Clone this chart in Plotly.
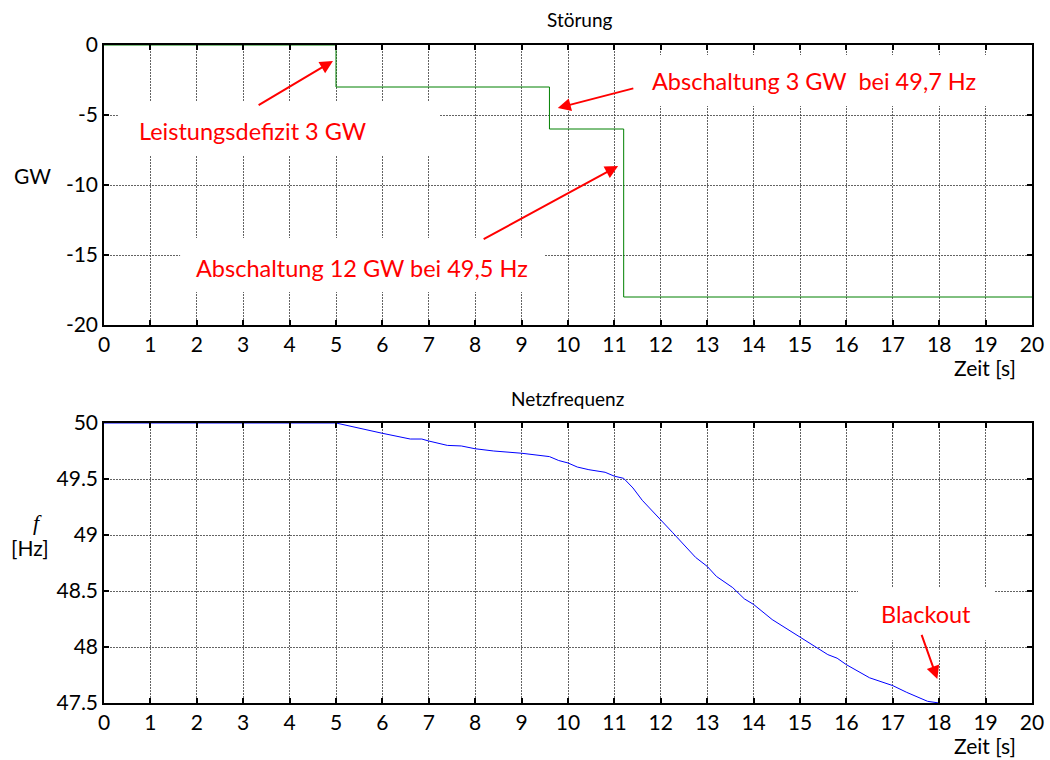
import plotly.graph_objects as go

# Störung: stepwise power deficit (GW) over time (s)
stoer_t = [0, 5, 5, 9.6, 9.6, 11.2, 11.2, 20]
stoer_gw = [0, 0, -3, -3, -6, -6, -18, -18]

# Netzfrequenz (Hz) over time (s)
freq_t = [0, 5, 6, 6.6, 6.85, 7, 7.4, 7.7, 8, 8.4, 9, 9.25, 9.6, 9.8, 10, 10.2,
          10.45, 10.8, 11.0, 11.2, 11.4, 11.6, 12.0, 12.25, 12.75, 13.0, 13.2,
          13.55, 13.8, 14.0, 14.4, 14.75, 15.0, 15.35, 15.6, 15.8, 16.0, 16.5,
          17.0, 17.3, 17.75, 18.0]
freq_hz = [50, 50, 49.908, 49.857, 49.857, 49.839, 49.80, 49.795, 49.77, 49.75,
           49.73, 49.715, 49.70, 49.665, 49.643, 49.607, 49.583, 49.56, 49.525,
           49.506, 49.42, 49.31, 49.137, 49.024, 48.8, 48.72, 48.63, 48.53,
           48.43, 48.38, 48.245, 48.155, 48.09, 48.0, 47.932, 47.9, 47.842,
           47.725, 47.655, 47.595, 47.515, 47.5]

x_ticks = list(range(0, 21))
gw_ticks = [0, -5, -10, -15, -20]
gw_ticklabels = ["0", "-5", "-10", "-15", "-20"]
hz_ticks = [50, 49.5, 49, 48.5, 48, 47.5]
hz_ticklabels = ["50", "49.5", "49", "48.5", "48", "47.5"]

FONT = "Lato"
RED = "#FF0000"
W, H = 1050, 760

fig = go.Figure()
fig.add_trace(go.Scatter(x=stoer_t, y=stoer_gw, mode="lines",
                         line=dict(color="#008000", width=1),
                         xaxis="x", yaxis="y", showlegend=False))
fig.add_trace(go.Scatter(x=freq_t, y=freq_hz, mode="lines",
                         line=dict(color="#0000FF", width=1),
                         xaxis="x2", yaxis="y2", showlegend=False))

def px_x(p):
    return p / W

def px_y(p):
    return 1 - p / H

axis_common = dict(
    showline=True, linecolor="black", linewidth=1.5, mirror="ticks",
    ticks="inside", ticklen=5, tickwidth=1.5, tickcolor="black",
    showgrid=True, gridcolor="rgba(60,60,60,0.8)", gridwidth=1, griddash="2px,1px",
    zeroline=False, tickfont=dict(family=FONT, size=21, color="black"),
    fixedrange=True, automargin=False,
)

xdom = [px_x(104), px_x(1032)]
fig.update_layout(
    width=W, height=H,
    margin=dict(l=0, r=0, t=0, b=0, autoexpand=False),
    paper_bgcolor="white", plot_bgcolor="white",
    font=dict(family=FONT, color="black"),
    xaxis=dict(domain=xdom, range=[0, 20], tickvals=x_ticks, anchor="y", **axis_common),
    yaxis=dict(domain=[px_y(325), px_y(45)], range=[-20, 0], tickvals=gw_ticks,
               ticktext=gw_ticklabels, anchor="x", **axis_common),
    xaxis2=dict(domain=xdom, range=[0, 20], tickvals=x_ticks, anchor="y2", **axis_common),
    yaxis2=dict(domain=[px_y(703), px_y(423)], range=[47.5, 50], tickvals=hz_ticks,
                ticktext=hz_ticklabels, anchor="x2", **axis_common),
)

# white label backgrounds, drawn above the grid but beneath the curves
label_boxes = [
    ("x", "y", 0.30, 7.22, -4.07, -7.86),
    ("x", "y", 11.55, 19.42, -0.71, -4.36),
    ("x", "y", 1.64, 9.5, -13.79, -17.64),
    ("x2", "y2", 16.25, 19.2, 48.527, 48.06),
]
for xr, yr, x0, x1, y0, y1 in label_boxes:
    fig.add_shape(type="rect", xref=xr, yref=yr, x0=x0, x1=x1, y0=y0, y1=y1,
                  fillcolor="white", line=dict(width=0), layer="between")

# red labels
labels = [
    ("x", "y", 3.19, -6.14, "Leistungsdefizit 3 GW"),
    ("x", "y", 15.30, -2.57, "Abschaltung 3 GW  bei 49,7 Hz"),
    ("x", "y", 5.56, -15.93, "Abschaltung 12 GW bei 49,5 Hz"),
    ("x2", "y2", 17.72, 48.295, "Blackout"),
]
for xr, yr, x, y, txt in labels:
    fig.add_annotation(xref=xr, yref=yr, x=x, y=y, text=txt, showarrow=False,
                       font=dict(family=FONT, size=23.5, color=RED))

# red arrows: (tip x, tip y, tail x, tail y)
arrows = [
    ("x", "y", 4.935, -1.14, 3.30, -4.36),
    ("x", "y", 9.78, -4.5, 11.44, -3.07),
    ("x", "y", 11.08, -8.64, 8.15, -13.93),
    ("x2", "y2", 17.96, 47.714, 17.61, 48.122),
]
for xr, yr, x, y, ax, ay in arrows:
    fig.add_annotation(xref=xr, yref=yr, x=x, y=y, axref=xr, ayref=yr, ax=ax, ay=ay,
                       text="", showarrow=True, arrowhead=2, arrowsize=1.3,
                       arrowwidth=2, arrowcolor=RED, standoff=0)

# titles and axis labels
texts = [
    (580, 20, "Störung", 19),
    (567, 398, "Netzfrequenz", 19),
    (985, 367, "Zeit [s]", 21),
    (985, 745, "Zeit [s]", 21),
    (32, 175, "GW", 21),
    (30, 547, "[Hz]", 21),
]
for xp, yp, txt, sz in texts:
    fig.add_annotation(xref="paper", yref="paper", x=px_x(xp), y=px_y(yp), text=txt,
                       showarrow=False, xanchor="center", yanchor="middle",
                       font=dict(family=FONT, size=sz, color="black"))
fig.add_annotation(xref="paper", yref="paper", x=px_x(37), y=px_y(522), text="<i>f</i>",
                   showarrow=False, xanchor="center", yanchor="middle",
                   font=dict(family="Liberation Serif", size=22, color="black"))

fig.write_html("out.html")
